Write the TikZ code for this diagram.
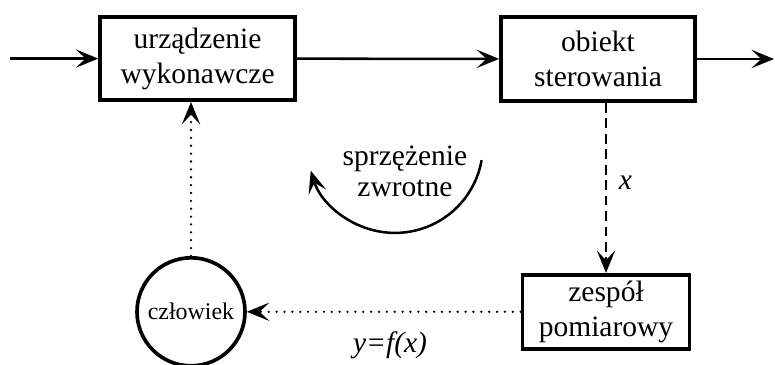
\documentclass[tikz,border=0pt]{standalone}
\usepackage{fontspec}
\setmainfont{Liberation Serif}
\usetikzlibrary{arrows.meta}

\begin{document}
\begin{tikzpicture}[
  block/.style={draw,line width=2.6pt,align=center,font=\fontsize{21}{25}\selectfont,inner sep=0pt},
  flow/.style={line width=1.8pt,-{Stealth[length=16pt,width=13pt,inset=7pt]}},
  dots/.style={line width=1.8pt,line cap=round,dash pattern=on 0pt off 5.6pt},
  lbl/.style={font=\fontsize{21}{25}\selectfont\itshape}
]
  \useasboundingbox (0,0) rectangle (19.375,9.125);

  % Main path
  \node[block,minimum width=4.875cm,minimum height=2.075cm] (act) at (4.94,7.66) {urządzenie\\wykonawcze};
  \node[block,minimum width=4.85cm,minimum height=2.1cm] (plant) at (14.95,7.65) {obiekt\\sterowania};
  \coordinate (in) at (0.25,7.66);
  \coordinate (out) at (19.35,7.65);
  \draw[flow] (in) -- (act);
  \draw[flow] (act) -- (plant);
  \draw[flow] (plant) -- (out);

  % Measurement
  \node[block,minimum width=4.175cm,minimum height=1.85cm] (meas) at (15.15,1.33) {zespół\\pomiarowy};
  \draw[flow,dash pattern=on 7pt off 4pt] (plant.south -| meas.north) -- (meas.north)
    node[lbl,pos=0.47,right=5pt] {x};

  % Human operator
  \node[draw,circle,line width=2.6pt,minimum size=2.7cm,inner sep=0pt,font=\fontsize{17}{20}\selectfont] (man) at (4.775,1.33) {człowiek};
  \draw[flow,dots] (meas.west) -- (man.east);
  \node[lbl] (yfx) at (9.75,0.5) {y=f(x)};
  \draw[flow,dots] (man.north) -- (man.north |- act.south);

  % Feedback loop mark
  \node[align=center,font=\fontsize{21}{22}\selectfont] (fb) at (10.125,4.83) {sprzężenie\\zwrotne};
  \draw[flow] (12.04,5.12) arc[start angle=-10,end angle=-163,radius=2.2cm];

\end{tikzpicture}
\end{document}
